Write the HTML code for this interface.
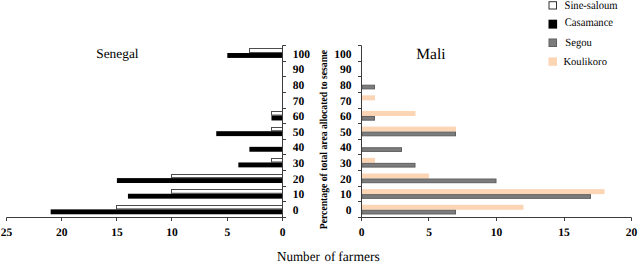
<!DOCTYPE html><html><head><meta charset="utf-8"><style>html,body{margin:0;padding:0;background:#fff;overflow:hidden}svg{display:block}text{font-family:"Liberation Serif",serif;text-rendering:geometricPrecision;}</style></head><body>
<svg width="638" height="262" viewBox="0 0 638 262">
<rect x="0" y="0" width="638" height="262" fill="#fff"/>
<rect x="249.50" y="48.50" width="33.00" height="4.02" fill="#fff" stroke="#4d4d4d" stroke-width="1"/>
<rect x="227.30" y="53.02" width="55.20" height="4.90" fill="#000"/>
<rect x="362.00" y="85.19" width="12.50" height="3.70" fill="#7c7c7c" stroke="#606060" stroke-width="1"/>
<rect x="361.50" y="95.33" width="13.50" height="5.00" fill="#FCD5B5"/>
<rect x="271.50" y="111.50" width="11.00" height="3.56" fill="#fff" stroke="#4d4d4d" stroke-width="1"/>
<rect x="271.46" y="115.56" width="11.04" height="4.90" fill="#000"/>
<rect x="361.50" y="110.96" width="54.00" height="5.00" fill="#FCD5B5"/>
<rect x="362.00" y="116.46" width="12.50" height="3.70" fill="#7c7c7c" stroke="#606060" stroke-width="1"/>
<rect x="271.50" y="127.50" width="11.00" height="3.20" fill="#fff" stroke="#4d4d4d" stroke-width="1"/>
<rect x="216.26" y="131.20" width="66.24" height="4.90" fill="#000"/>
<rect x="361.50" y="126.60" width="94.50" height="5.00" fill="#FCD5B5"/>
<rect x="362.00" y="132.10" width="93.50" height="3.70" fill="#7c7c7c" stroke="#606060" stroke-width="1"/>
<rect x="249.38" y="146.84" width="33.12" height="4.90" fill="#000"/>
<rect x="362.00" y="147.74" width="39.50" height="3.70" fill="#7c7c7c" stroke="#606060" stroke-width="1"/>
<rect x="271.50" y="158.50" width="11.00" height="3.47" fill="#fff" stroke="#4d4d4d" stroke-width="1"/>
<rect x="238.34" y="162.47" width="44.16" height="4.90" fill="#000"/>
<rect x="361.50" y="157.87" width="13.50" height="5.00" fill="#FCD5B5"/>
<rect x="362.00" y="163.37" width="53.00" height="3.70" fill="#7c7c7c" stroke="#606060" stroke-width="1"/>
<rect x="171.50" y="174.50" width="111.00" height="3.11" fill="#fff" stroke="#4d4d4d" stroke-width="1"/>
<rect x="116.90" y="178.11" width="165.60" height="4.90" fill="#000"/>
<rect x="361.50" y="173.51" width="67.50" height="5.00" fill="#FCD5B5"/>
<rect x="362.00" y="179.01" width="134.00" height="3.70" fill="#7c7c7c" stroke="#606060" stroke-width="1"/>
<rect x="171.50" y="189.50" width="111.00" height="3.75" fill="#fff" stroke="#4d4d4d" stroke-width="1"/>
<rect x="127.94" y="193.75" width="154.56" height="4.90" fill="#000"/>
<rect x="361.50" y="189.15" width="243.00" height="5.00" fill="#FCD5B5"/>
<rect x="362.00" y="194.65" width="228.50" height="3.70" fill="#7c7c7c" stroke="#606060" stroke-width="1"/>
<rect x="116.50" y="205.50" width="166.00" height="3.38" fill="#fff" stroke="#4d4d4d" stroke-width="1"/>
<rect x="50.66" y="209.38" width="231.84" height="4.90" fill="#000"/>
<rect x="361.50" y="204.78" width="162.00" height="5.00" fill="#FCD5B5"/>
<rect x="362.00" y="210.28" width="93.50" height="3.70" fill="#7c7c7c" stroke="#606060" stroke-width="1"/>
<g stroke="#3c3c3c" stroke-width="1" fill="none">
<line x1="282.5" y1="45.5" x2="282.5" y2="221.0"/>
<line x1="282.5" y1="45.50" x2="286.0" y2="45.50"/>
<line x1="282.5" y1="61.50" x2="286.0" y2="61.50"/>
<line x1="282.5" y1="76.50" x2="286.0" y2="76.50"/>
<line x1="282.5" y1="92.50" x2="286.0" y2="92.50"/>
<line x1="282.5" y1="108.50" x2="286.0" y2="108.50"/>
<line x1="282.5" y1="123.50" x2="286.0" y2="123.50"/>
<line x1="282.5" y1="139.50" x2="286.0" y2="139.50"/>
<line x1="282.5" y1="154.50" x2="286.0" y2="154.50"/>
<line x1="282.5" y1="170.50" x2="286.0" y2="170.50"/>
<line x1="282.5" y1="186.50" x2="286.0" y2="186.50"/>
<line x1="282.5" y1="201.50" x2="286.0" y2="201.50"/>
<line x1="282.5" y1="217.50" x2="286.0" y2="217.50"/>
<line x1="6.50" y1="217.5" x2="282.5" y2="217.5"/>
<line x1="282.50" y1="217.5" x2="282.50" y2="221.0"/>
<line x1="227.50" y1="217.5" x2="227.50" y2="221.0"/>
<line x1="171.50" y1="217.5" x2="171.50" y2="221.0"/>
<line x1="116.50" y1="217.5" x2="116.50" y2="221.0"/>
<line x1="61.50" y1="217.5" x2="61.50" y2="221.0"/>
<line x1="6.50" y1="217.5" x2="6.50" y2="221.0"/>
<line x1="361.5" y1="45.5" x2="361.5" y2="221.0"/>
<line x1="358.0" y1="45.50" x2="361.5" y2="45.50"/>
<line x1="358.0" y1="61.50" x2="361.5" y2="61.50"/>
<line x1="358.0" y1="76.50" x2="361.5" y2="76.50"/>
<line x1="358.0" y1="92.50" x2="361.5" y2="92.50"/>
<line x1="358.0" y1="108.50" x2="361.5" y2="108.50"/>
<line x1="358.0" y1="123.50" x2="361.5" y2="123.50"/>
<line x1="358.0" y1="139.50" x2="361.5" y2="139.50"/>
<line x1="358.0" y1="154.50" x2="361.5" y2="154.50"/>
<line x1="358.0" y1="170.50" x2="361.5" y2="170.50"/>
<line x1="358.0" y1="186.50" x2="361.5" y2="186.50"/>
<line x1="358.0" y1="201.50" x2="361.5" y2="201.50"/>
<line x1="358.0" y1="217.50" x2="361.5" y2="217.50"/>
<line x1="361.5" y1="217.5" x2="631.50" y2="217.5"/>
<line x1="361.50" y1="217.5" x2="361.50" y2="221.0"/>
<line x1="428.50" y1="217.5" x2="428.50" y2="221.0"/>
<line x1="496.50" y1="217.5" x2="496.50" y2="221.0"/>
<line x1="564.50" y1="217.5" x2="564.50" y2="221.0"/>
<line x1="631.50" y1="217.5" x2="631.50" y2="221.0"/>
</g>
<g font-weight="bold" font-size="11.5" fill="#000">
<text x="292.7" y="57.62">100</text>
<text x="351.5" y="57.62" text-anchor="end">100</text>
<text x="292.7" y="73.25">90</text>
<text x="351.5" y="73.25" text-anchor="end">90</text>
<text x="292.7" y="88.89">80</text>
<text x="351.5" y="88.89" text-anchor="end">80</text>
<text x="292.7" y="104.53">70</text>
<text x="351.5" y="104.53" text-anchor="end">70</text>
<text x="292.7" y="120.16">60</text>
<text x="351.5" y="120.16" text-anchor="end">60</text>
<text x="292.7" y="135.80">50</text>
<text x="351.5" y="135.80" text-anchor="end">50</text>
<text x="292.7" y="151.44">40</text>
<text x="351.5" y="151.44" text-anchor="end">40</text>
<text x="292.7" y="167.07">30</text>
<text x="351.5" y="167.07" text-anchor="end">30</text>
<text x="292.7" y="182.71">20</text>
<text x="351.5" y="182.71" text-anchor="end">20</text>
<text x="292.7" y="198.35">10</text>
<text x="351.5" y="198.35" text-anchor="end">10</text>
<text x="292.7" y="213.98">0</text>
<text x="351.5" y="213.98" text-anchor="end">0</text>
<text x="282.50" y="235.8" text-anchor="middle">0</text>
<text x="227.30" y="235.8" text-anchor="middle">5</text>
<text x="172.10" y="235.8" text-anchor="middle">10</text>
<text x="116.90" y="235.8" text-anchor="middle">15</text>
<text x="61.70" y="235.8" text-anchor="middle">20</text>
<text x="6.50" y="235.8" text-anchor="middle">25</text>
<text x="361.50" y="235.8" text-anchor="middle">0</text>
<text x="429.00" y="235.8" text-anchor="middle">5</text>
<text x="496.50" y="235.8" text-anchor="middle">10</text>
<text x="564.00" y="235.8" text-anchor="middle">15</text>
<text x="631.50" y="235.8" text-anchor="middle">20</text>
</g>
<text font-weight="bold" font-size="10.6" text-anchor="middle" transform="translate(326.5,139.6) rotate(-90) scale(0.914,1)">Percentage of total area allocated to sesame</text>
<text x="96.2" y="57.9" font-size="13.4">Senegal</text>
<text x="416.3" y="59" font-size="15.5">Mali</text>
<g font-size="13.6"><text transform="translate(277,260.9) scale(0.96,1)">Number</text><text x="324.4" y="260.9" transform="translate(324.4,0) scale(0.96,1) translate(-324.4,0)">of</text><text x="338.3" y="260.9">farmers</text></g>
<rect x="549" y="1.7" width="7.5" height="7.3" fill="#fff" stroke="#333" stroke-width="1"/>
<rect x="548.5" y="19.7" width="8.6" height="8.9" fill="#000"/>
<rect x="549" y="39" width="7.5" height="7.5" fill="#7c7c7c" stroke="#606060" stroke-width="1"/>
<rect x="548.5" y="57.4" width="8.5" height="8.4" fill="#FCD5B5"/>
<g font-size="10.6" fill="#000">
<text transform="translate(564.5,8.6) scale(1,1.09)">Sine-saloum</text>
<text transform="translate(564.8,25.5) scale(1,1.09)">Casamance</text>
<text transform="translate(565.3,46.0) scale(1,1.04)">Segou</text>
<text transform="translate(563.4,64.8) scale(1,1.0)">Koulikoro</text>
</g>
</svg></body></html>
